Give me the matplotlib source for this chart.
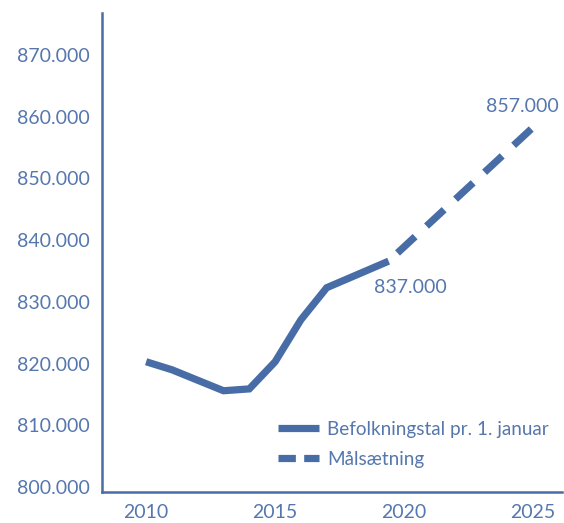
import matplotlib
matplotlib.use("Agg")
import matplotlib.pyplot as plt
from matplotlib.lines import Line2D
from matplotlib.ticker import FuncFormatter

plt.rcParams['lines.scale_dashes'] = False
plt.rcParams['font.family'] = ['Lato', 'DejaVu Sans']

# Data (population, thousands)
hist_years = [2010, 2011, 2012, 2013, 2014, 2015, 2016, 2017, 2019.4]
hist_values = [820.3, 819.0, 817.3, 815.6, 815.9, 820.3, 827.1, 832.3, 836.6]
goal_years = [2019.4, 2025]
goal_values = [836.6, 858.3]
yticks = [800, 810, 820, 830, 840, 850, 860, 870]
xticks = [2010, 2015, 2020, 2025]
legend_labels = ["Befolkningstal pr. 1. januar", "Målsætning"]
label_start = "837.000"
label_goal = "857.000"

line_color = '#486da6'
text_color = '#5577ae'
fs = 14
fw = 'normal'

fig = plt.figure(figsize=(5.64, 5.23), dpi=100)
ax = fig.add_axes([102/564, 31/523, 460/564, 479/523])

ax.plot(hist_years, hist_values, color=line_color, lw=5.2, solid_capstyle='butt',
        solid_joinstyle='miter')
ax.plot(goal_years, goal_values, color=line_color, lw=5.2,
        linestyle=(19.8, (17.3, 11.2)), dash_capstyle='butt')

ax.set_xlim(2008.29, 2026.12)
ax.set_ylim(799.19, 876.82)
ax.set_xticks(xticks)
ax.set_yticks(yticks)
ax.yaxis.set_major_formatter(FuncFormatter(lambda v, p: f"{int(round(v))}.000"))
ax.tick_params(length=0, labelsize=fs, labelcolor=text_color)
ax.tick_params(axis='y', pad=8.5)
ax.tick_params(axis='x', pad=8.5)
for lab in ax.get_xticklabels() + ax.get_yticklabels():
    lab.set_fontweight(fw)

for s in ['top', 'right']:
    ax.spines[s].set_visible(False)
for s in ['left', 'bottom']:
    ax.spines[s].set_color(line_color)
    ax.spines[s].set_linewidth(1.8)

ax.annotate(label_start, xy=(hist_years[-1], hist_values[-1]), xytext=(16, -19),
            textcoords='offset points', ha='center', va='center', fontsize=fs,
            color=text_color, fontweight=fw)
ax.annotate(label_goal, xy=(goal_years[-1], goal_values[-1]), xytext=(-7.5, 15),
            textcoords='offset points', ha='center', va='center', fontsize=fs,
            color=text_color, fontweight=fw)

handles = [Line2D([], [], color=line_color, lw=5.2, solid_capstyle='butt'),
           Line2D([], [], color=line_color, lw=5.2, linestyle=(0, (12.5, 6)),
                  dash_capstyle='butt')]
leg = ax.legend(handles, legend_labels, loc='upper left',
                bbox_to_anchor=((278-102)/460, (492-421)/479), frameon=False,
                borderpad=0, borderaxespad=0, handlelength=2.15, handletextpad=0.47,
                labelspacing=0.68, fontsize=13.6)
for t in leg.get_texts():
    t.set_color(text_color)
    t.set_fontweight(fw)

fig.savefig("out.png", dpi=100)
